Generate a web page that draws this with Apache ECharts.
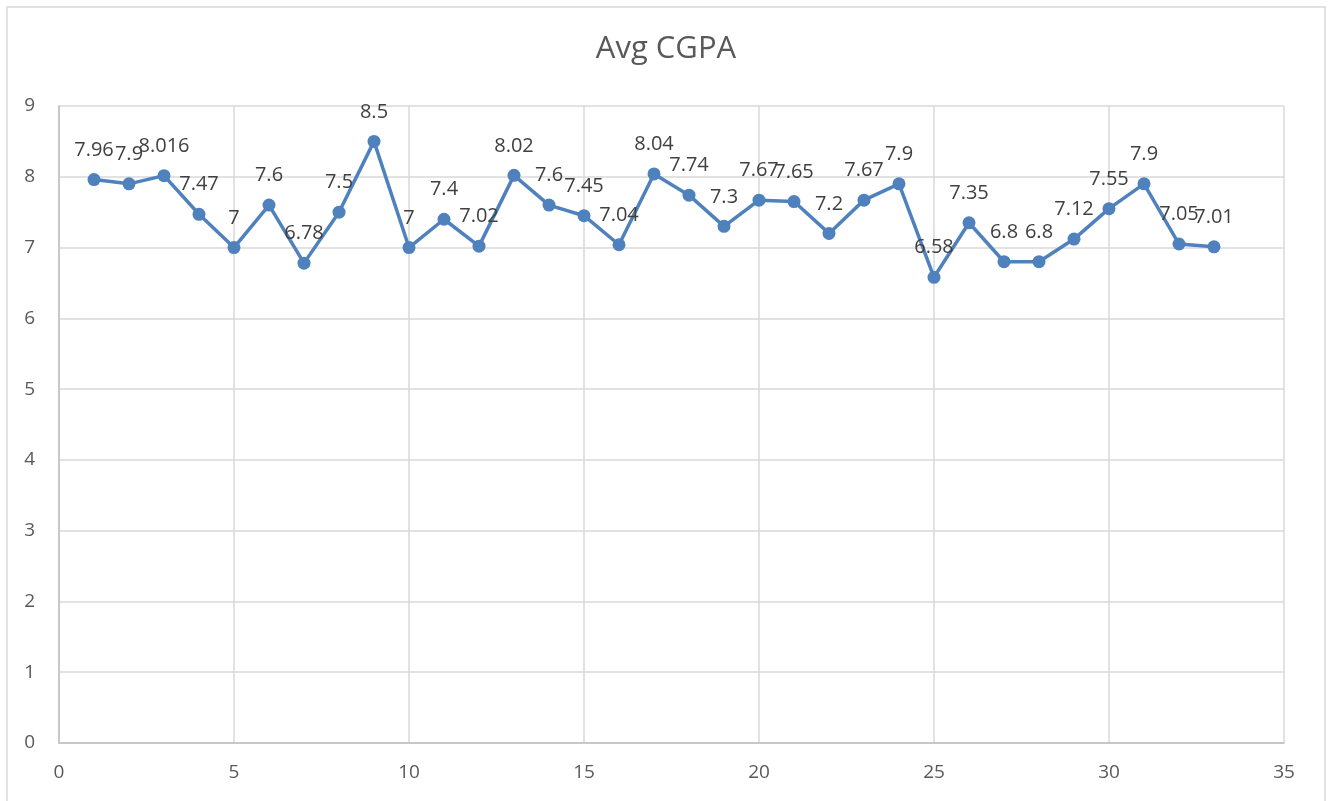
<!DOCTYPE html>
<html>
<head>
<meta charset="utf-8">
<script src="https://cdn.jsdelivr.net/npm/echarts@6/dist/echarts.min.js"></script>
<style>html,body{margin:0;padding:0;background:#fff;}#c{width:1332px;height:801px;}</style>
</head>
<body>
<div id="c"></div>
<script>
const xValues = [1,2,3,4,5,6,7,8,9,10,11,12,13,14,15,16,17,18,19,20,21,22,23,24,25,26,27,28,29,30,31,32,33];
const cgpa = [7.96,7.9,8.016,7.47,7,7.6,6.78,7.5,8.5,7,7.4,7.02,8.02,7.6,7.45,7.04,8.04,7.74,7.3,7.67,7.65,7.2,7.67,7.9,6.58,7.35,6.8,6.8,7.12,7.55,7.9,7.05,7.01];
const titleText = 'Avg CGPA';

const FONT = '"Open Sans", sans-serif';
const chart = echarts.init(document.getElementById('c'), null, {renderer: 'canvas'});
chart.setOption({
  animation: false,
  backgroundColor: '#fff',
  title: {
    text: titleText, left: 'center', top: 29,
    textStyle: {fontFamily: FONT, fontSize: 31, fontWeight: 'normal', color: '#595959'}
  },
  graphic: [{
    type: 'rect', shape: {x: 7, y: 7, width: 1318, height: 810},
    style: {fill: 'none', stroke: '#d9d9d9', lineWidth: 1.5}, silent: true, z: 100
  }],
  grid: {left: 59, right: 48, top: 106, bottom: 58, containLabel: false},
  xAxis: {
    type: 'value', min: 0, max: 35, interval: 5,
    axisLine: {show: true, lineStyle: {color: '#bfbfbf', width: 1.5}},
    axisTick: {show: false},
    axisLabel: {fontFamily: FONT, fontSize: 19, color: '#595959', margin: 20},
    splitLine: {show: true, lineStyle: {color: '#d9d9d9', width: 1.5}}
  },
  yAxis: {
    type: 'value', min: 0, max: 9, interval: 1,
    axisLine: {show: true, lineStyle: {color: '#bfbfbf', width: 1.5}},
    axisTick: {show: false},
    axisLabel: {fontFamily: FONT, fontSize: 19, color: '#595959', margin: 24},
    splitLine: {show: true, lineStyle: {color: '#d9d9d9', width: 1.5}}
  },
  series: [{
    type: 'line',
    data: xValues.map((x, i) => [x, cgpa[i]]),
    symbol: 'circle', symbolSize: 13,
    lineStyle: {color: '#4f81bd', width: 3.5},
    itemStyle: {color: '#4f81bd'},
    label: {
      show: true, position: 'top', distance: 13,
      fontFamily: FONT, fontSize: 20, color: '#404040',
      formatter: p => String(p.value[1])
    }
  }]
});
</script>
</body>
</html>
